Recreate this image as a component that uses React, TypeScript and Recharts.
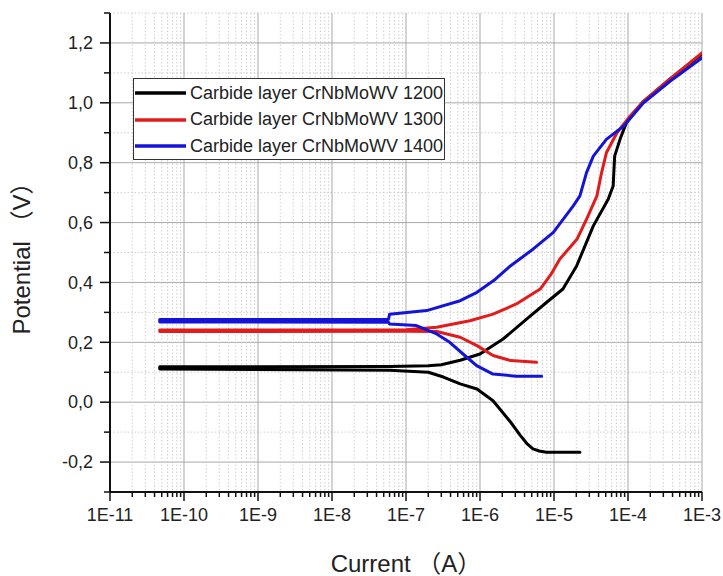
import React from 'react';
import { LineChart, Line, XAxis, YAxis, CartesianGrid, Legend } from 'recharts';

// ---- Data (current in A, potential in V), ordered cathodic end -> Ecorr -> anodic end ----
const current1200 = [2.24e-5, 7.9e-6, 6.3e-6, 5.2e-6, 4.3e-6, 3.5e-6, 2.6e-6, 1.5e-6, 9.1e-7, 5.4e-7, 3.2e-7, 2.0e-7, 6e-8, 4.7e-11,
  4.7e-11, 6e-8, 2.0e-7, 3.0e-7, 5.4e-7, 1.0e-6, 2.05e-6, 4.3e-6, 7.9e-6, 1.32e-5, 2.03e-5, 3.4e-5, 5.4e-5, 6.3e-5,
  6.6e-5, 7.8e-5, 9.5e-5, 1.32e-4, 1.62e-4, 3.7e-4, 1e-3];
const potential1200 = [-0.167, -0.167, -0.163, -0.156, -0.138, -0.111, -0.067, 0.005, 0.044, 0.061, 0.084, 0.1, 0.107, 0.111,
  0.118, 0.119, 0.122, 0.125, 0.14, 0.161, 0.211, 0.278, 0.333, 0.378, 0.456, 0.589, 0.678, 0.722,
  0.822, 0.878, 0.933, 0.978, 1.005, 1.08, 1.163];

const current1300 = [5.8e-6, 2.6e-6, 1.5e-6, 9.1e-7, 5.4e-7, 2.6e-7, 1e-7, 4.7e-11,
  4.7e-11, 1e-7, 2.6e-7, 7.3e-7, 1.5e-6, 3.1e-6, 6.5e-6, 9e-6, 1.2e-5, 2.04e-5, 2.75e-5, 3.8e-5, 4.4e-5, 5.1e-5,
  7.1e-5, 1.07e-4, 1.62e-4, 3.7e-4, 1e-3];
const potential1300 = [0.133, 0.139, 0.156, 0.189, 0.217, 0.236, 0.237, 0.236,
  0.241, 0.242, 0.25, 0.272, 0.294, 0.328, 0.378, 0.425, 0.478, 0.544, 0.611, 0.689, 0.767, 0.833,
  0.9, 0.956, 1.005, 1.08, 1.167];

const current1400 = [6.8e-6, 3.1e-6, 1.5e-6, 9.0e-7, 5.9e-7, 3.9e-7, 2.6e-7, 1.38e-7, 6e-8, 5.8e-8, 4.7e-11,
  4.7e-11, 5.8e-8, 6e-8, 1.9e-7, 5.4e-7, 9.1e-7, 1.6e-6, 2.6e-6, 5.2e-6, 9.8e-6, 1.82e-5, 2.24e-5, 2.75e-5, 3.4e-5,
  5.1e-5, 8.7e-5, 1.62e-4, 3.7e-4, 1e-3];
const potential1400 = [0.087, 0.087, 0.094, 0.122, 0.161, 0.2, 0.228, 0.256, 0.261, 0.267, 0.268,
  0.276, 0.277, 0.294, 0.306, 0.339, 0.367, 0.41, 0.456, 0.511, 0.567, 0.656, 0.689, 0.767, 0.822,
  0.878, 0.922, 1.0, 1.072, 1.15];

const seriesNames = ['Carbide layer CrNbMoWV 1200', 'Carbide layer CrNbMoWV 1300', 'Carbide layer CrNbMoWV 1400'];
const seriesColors = ['#000000', '#e01c1c', '#1414d8'];

// ---- Ticks ----
const xMajorTicks = [1e-11, 1e-10, 1e-9, 1e-8, 1e-7, 1e-6, 1e-5, 1e-4, 1e-3];
const xTickLabels = ['1E-11', '1E-10', '1E-9', '1E-8', '1E-7', '1E-6', '1E-5', '1E-4', '1E-3'];
const xMinorMultipliers = [2, 3, 4, 5, 6, 7, 8, 9];

const yMajorTicks = [-0.2, 0, 0.2, 0.4, 0.6, 0.8, 1.0, 1.2];
const yTickLabels = ['-0,2', '0,0', '0,2', '0,4', '0,6', '0,8', '1,0', '1,2'];
const yMinorTicks = [-0.3, -0.1, 0.1, 0.3, 0.5, 0.7, 0.9, 1.1, 1.3];

const xAllTicks = [
  ...xMajorTicks,
  ...xMajorTicks.slice(0, -1).flatMap((d) => xMinorMultipliers.map((m) => m * d)),
].sort((a, b) => a - b);
const yAllTicks = [...yMajorTicks, ...yMinorTicks].sort((a, b) => a - b);

const toPoints = (cur: number[], pot: number[]) => cur.map((c, k) => ({ current: c, potential: pot[k] }));
const seriesData = [
  toPoints(current1200, potential1200),
  toPoints(current1300, potential1300),
  toPoints(current1400, potential1400),
];

const FONT = "'Liberation Sans', Arial, 'Noto Sans CJK SC', sans-serif";
const TEXT = '#222';

const XTick = (props: any) => {
  const { x, y, payload } = props;
  const idx = xMajorTicks.indexOf(payload.value);
  const major = idx >= 0;
  return (
    <g>
      <line x1={x} x2={x} y1={y} y2={y + (major ? 9 : 5)} stroke="#111" strokeWidth={1.5} />
      {major && (
        <text x={x} y={y + 29} textAnchor="middle" fontFamily={FONT} fontSize={18} fill={TEXT}>
          {xTickLabels[idx]}
        </text>
      )}
    </g>
  );
};

const YTick = (props: any) => {
  const { x, y, payload } = props;
  const idx = yMajorTicks.indexOf(payload.value);
  const major = idx >= 0;
  return (
    <g>
      <line x1={x - (major ? 10 : 6)} x2={x} y1={y} y2={y} stroke="#111" strokeWidth={1.5} />
      {major && (
        <text x={x - 17} y={y} dy="0.35em" textAnchor="end" fontFamily={FONT} fontSize={18} fill={TEXT}>
          {yTickLabels[idx]}
        </text>
      )}
    </g>
  );
};

const gridVertical = (p: any) => {
  const major = xMajorTicks.includes(xAllTicks[p.index]);
  return (
    <line
      key={`gv-${p.index}`}
      x1={p.x1} x2={p.x2} y1={p.y1} y2={p.y2}
      stroke={major ? '#a8a8a8' : '#cfcfcf'}
      strokeWidth={1}
      strokeDasharray={major ? undefined : '1.5 2'}
    />
  );
};

const gridHorizontal = (p: any) => {
  const major = yMajorTicks.includes(yAllTicks[p.index]);
  return (
    <line
      key={`gh-${p.index}`}
      x1={p.x1} x2={p.x2} y1={p.y1} y2={p.y2}
      stroke={major ? '#a8a8a8' : '#cfcfcf'}
      strokeWidth={1}
      strokeDasharray={major ? undefined : '1.5 2'}
    />
  );
};

const LegendBox = () => (
  <div
    style={{
      boxSizing: 'border-box',
      width: 312,
      height: 82,
      border: '1px solid #333',
      background: '#fff',
      paddingTop: 1,
      fontFamily: FONT,
      fontSize: 18,
      color: TEXT,
    }}
  >
    {seriesNames.map((name, k) => (
      <div key={name} style={{ display: 'flex', alignItems: 'center', height: 26.5, whiteSpace: 'nowrap' }}>
        <svg width={52} height={6} style={{ marginLeft: 1, display: 'block' }}>
          <line x1={0} x2={51} y1={3} y2={3} stroke={seriesColors[k]} strokeWidth={3.5} />
        </svg>
        <span style={{ marginLeft: 3 }}>{name}</span>
      </div>
    ))}
  </div>
);

export default function App() {
  return (
    <div style={{ position: 'absolute', left: 0, top: 0 }}>
      <LineChart width={723} height={576} margin={{ top: 13, right: 21, bottom: 0, left: 0 }}>
        <CartesianGrid syncWithTicks vertical={gridVertical} horizontal={gridHorizontal} />
        <XAxis
          dataKey="current"
          type="number"
          scale="log"
          domain={[1e-11, 1e-3]}
          allowDataOverflow
          ticks={xAllTicks}
          interval={0}
          tick={<XTick />}
          tickLine={false}
          tickSize={0}
          tickMargin={0}
          height={84}
          axisLine={{ stroke: '#111', strokeWidth: 2 }}
          label={{
            value: 'Current （A）',
            position: 'insideBottom',
            offset: 4,
            style: { fontFamily: FONT, fontSize: 24, fill: TEXT },
          }}
        />
        <YAxis
          dataKey="potential"
          type="number"
          domain={[-0.3, 1.3]}
          allowDataOverflow
          ticks={yAllTicks}
          interval={0}
          tick={<YTick />}
          tickLine={false}
          tickSize={0}
          tickMargin={0}
          width={110}
          axisLine={{ stroke: '#111', strokeWidth: 2 }}
          label={{
            value: 'Potential （V）',
            angle: -90,
            position: 'insideLeft',
            offset: 21,
            style: { fontFamily: FONT, fontSize: 24, fill: TEXT, textAnchor: 'middle' },
          }}
        />
        <Legend
          layout="vertical"
          align="center"
          verticalAlign="middle"
          content={() => <LegendBox />}
          wrapperStyle={{ left: 133, top: 78, width: 'auto', height: 'auto' }}
        />
        {seriesData.map((d, k) => (
          <Line
            key={seriesNames[k]}
            data={d}
            dataKey="potential"
            name={seriesNames[k]}
            type="linear"
            stroke={seriesColors[k]}
            strokeWidth={3}
            strokeLinejoin="round"
            strokeLinecap="round"
            dot={false}
            activeDot={false}
            isAnimationActive={false}
          />
        ))}
      </LineChart>
    </div>
  );
}
